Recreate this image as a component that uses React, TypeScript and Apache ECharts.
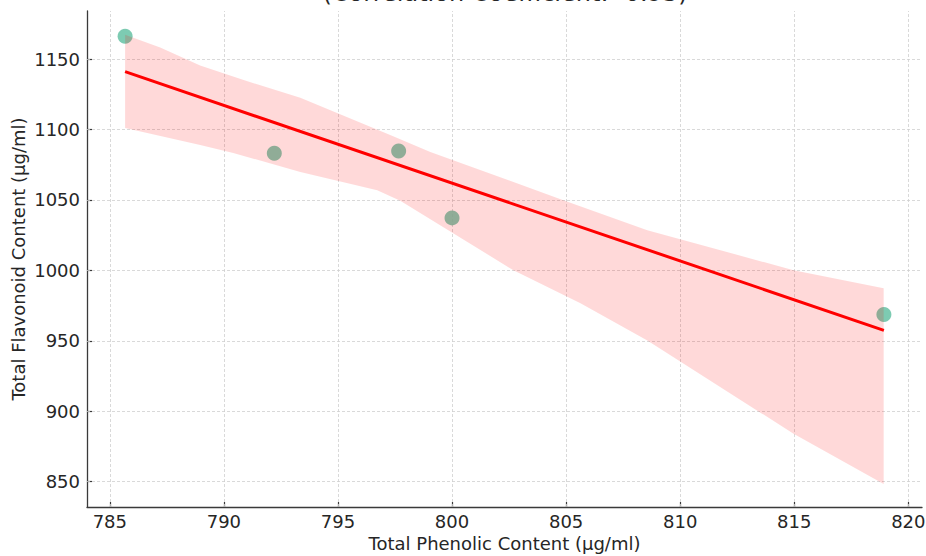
import React, { useEffect, useRef } from "react";
import * as echarts from "echarts";

const xValues = [785.67, 792.21, 797.66, 800.0, 818.93];
const yValues = [1166.2, 1083.2, 1084.8, 1037.3, 968.7];

const fitX = [785.67, 818.93];
const fitY = [1141.1, 957.4];

const bandUpperX = [785.67, 787.21, 788.96, 790.9, 793.35, 797.29, 799.05, 804.88, 808.56, 814.97, 818.92];
const bandUpperY = [1167.4, 1158.2, 1145.5, 1135.0, 1122.6, 1096.2, 1084.1, 1049.9, 1028.6, 1000.1, 987.3];
const bandLowerX = [785.67, 788.96, 790.41, 793.35, 796.72, 797.73, 802.69, 805.63, 808.56, 814.97, 818.92];
const bandLowerY = [1101.2, 1089.1, 1083.4, 1069.9, 1057.0, 1049.5, 1000.1, 976.6, 950.3, 884.0, 848.4];

const xTicks = [785, 790, 795, 800, 805, 810, 815, 820];
const yTicks = [850, 900, 950, 1000, 1050, 1100, 1150];

const titleText = "(Correlation Coefficient: -0.95)";
const xName = "Total Phenolic Content (μg/ml)";
const yName = "Total Flavonoid Content (μg/ml)";

const FONT = "DejaVu Sans";
const TXT = "#262626";
const AX = "#3a3a3a";

export default function App() {
  const ref = useRef<HTMLDivElement>(null);
  useEffect(() => {
    document.body.style.margin = "0";
    const chart = echarts.init(ref.current!, null, { renderer: "svg" });
    const gridLines = [
      ...xTicks.map((v) => ({ xAxis: v })),
      ...yTicks.map((v) => ({ yAxis: v })),
    ];
    chart.setOption({
      animation: false,
      backgroundColor: "#ffffff",
      grid: { left: 87, right: 4, top: 11, bottom: 49, containLabel: false, outerBoundsMode: "none" },
      xAxis: {
        type: "value",
        min: 784.0,
        max: 820.6,
        name: xName,
        nameLocation: "middle",
        nameGap: 27,
        nameMoveOverlap: false,
        nameTextStyle: { fontFamily: FONT, fontSize: 18, color: TXT },
        axisLine: { show: true, lineStyle: { color: AX, width: 1.3 } },
        axisTick: { show: true, inside: true, customValues: xTicks, length: 5, lineStyle: { color: AX, width: 1.2 } },
        axisLabel: { customValues: xTicks, fontFamily: FONT, fontSize: 18, color: TXT, margin: 5 },
        splitLine: { show: false },
      },
      yAxis: {
        type: "value",
        min: 832,
        max: 1184.2,
        name: yName,
        nameLocation: "middle",
        nameGap: 60,
        nameMoveOverlap: false,
        nameTextStyle: { fontFamily: FONT, fontSize: 18, color: TXT },
        axisLine: { show: true, lineStyle: { color: AX, width: 1.3 } },
        axisTick: { show: true, inside: true, customValues: yTicks, length: 5, lineStyle: { color: AX, width: 1.2 } },
        axisLabel: {
          customValues: yTicks,
          fontFamily: FONT,
          fontSize: 18,
          color: TXT,
          margin: 7,
          formatter: (v: number) => String(v),
        },
        splitLine: { show: false },
      },
      graphic: [
        {
          type: "text",
          x: 505,
          y: 5,
          style: {
            text: titleText,
            fontFamily: FONT,
            fontSize: 24,
            fill: TXT,
            textAlign: "center",
            textVerticalAlign: "bottom",
          },
        },
      ],
      series: [
        {
          type: "line",
          data: [],
          z: 1,
          markLine: {
            silent: true,
            symbol: "none",
            z: 1,
            label: { show: false },
            lineStyle: { color: "#cfcfcf", width: 0.8, type: [3, 2] },
            data: gridLines,
          },
        },
        {
          type: "scatter",
          z: 2,
          data: xValues.map((x, i) => [x, yValues[i]]),
          symbolSize: 15,
          itemStyle: { color: "#66c2a5", opacity: 0.85 },
        },
        {
          type: "custom",
          z: 3,
          clip: true,
          data: [[bandUpperX[0], bandUpperY[0]]],
          renderItem: (_params: any, api: any) => {
            const pts: number[][] = [];
            for (let i = 0; i < bandUpperX.length; i++) pts.push(api.coord([bandUpperX[i], bandUpperY[i]]));
            for (let i = bandLowerX.length - 1; i >= 0; i--) pts.push(api.coord([bandLowerX[i], bandLowerY[i]]));
            return {
              type: "polygon",
              shape: { points: pts },
              style: { fill: "rgba(255,0,0,0.15)" },
            };
          },
        },
        {
          type: "line",
          z: 4,
          data: fitX.map((x, i) => [x, fitY[i]]),
          showSymbol: false,
          lineStyle: { color: "#ff0000", width: 3 },
        },
      ],
    });
    return () => chart.dispose();
  }, []);
  return <div ref={ref} style={{ width: 926, height: 556 }} />;
}
